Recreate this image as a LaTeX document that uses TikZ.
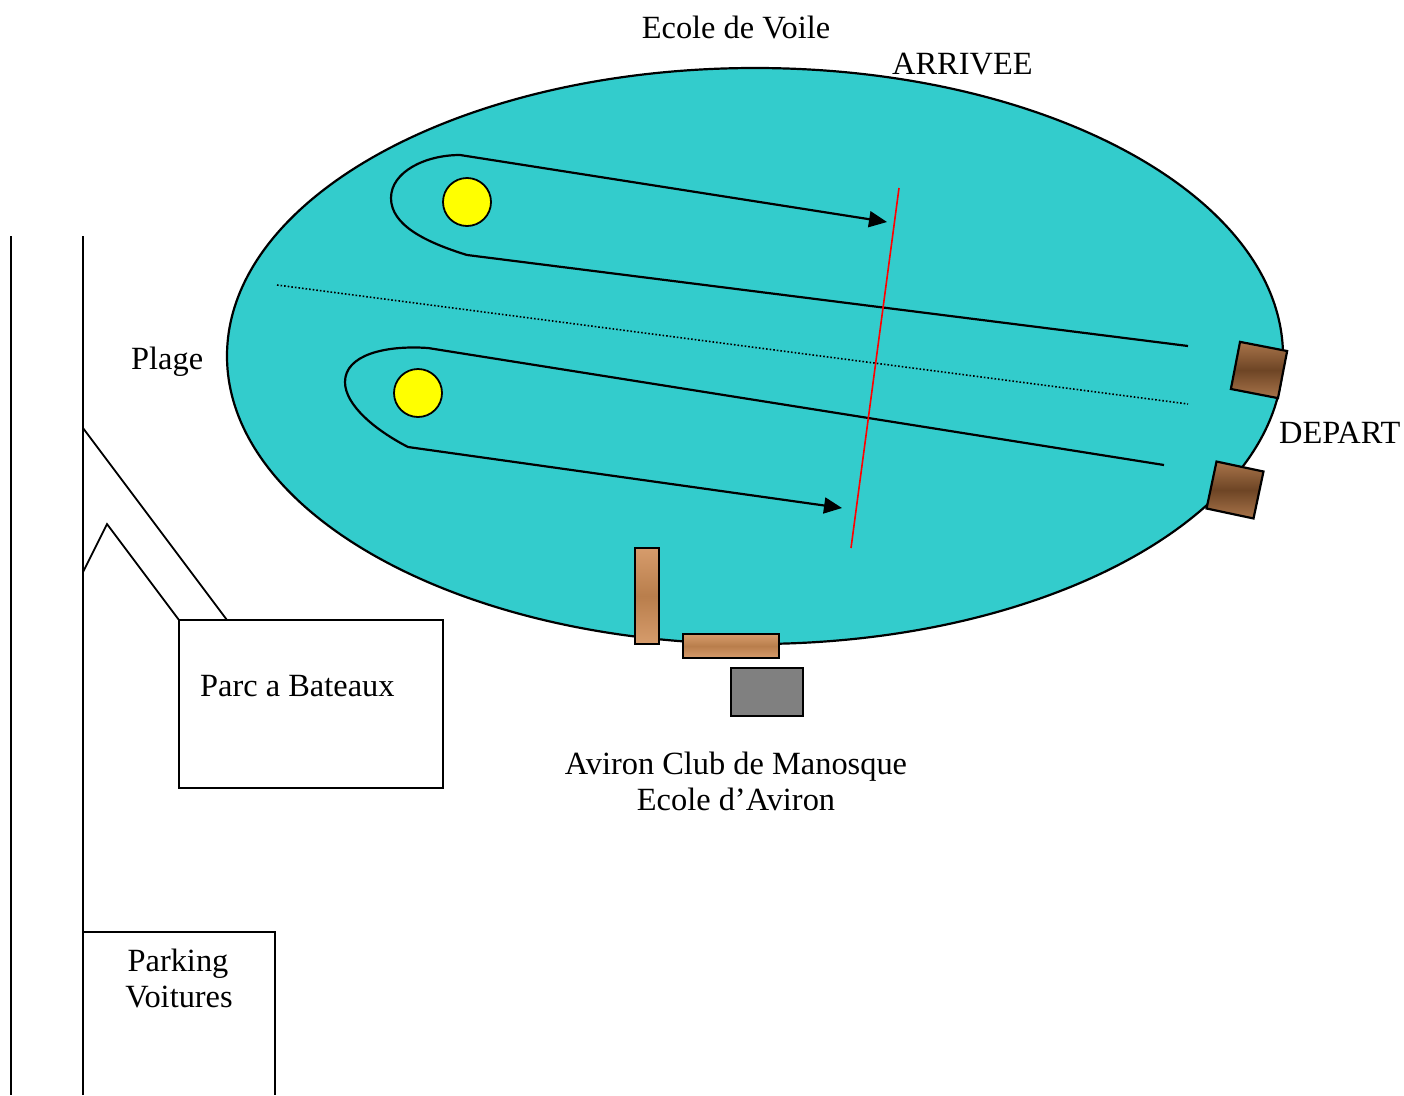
\documentclass[tikz,border=0pt]{standalone}
\usepackage{fontspec}
\setmainfont{Liberation Serif}
\usetikzlibrary{arrows.meta}
\definecolor{lake}{HTML}{33CCCC}
\definecolor{woodA}{HTML}{D69C6C}
\definecolor{woodB}{HTML}{B97E4C}
\definecolor{woodC}{HTML}{A8744A}
\definecolor{woodD}{HTML}{6E4525}
\definecolor{buoy}{HTML}{FFFF00}
\definecolor{shed}{HTML}{808080}
\tikzset{
  lbl/.style={inner sep=0pt, font=\fontsize{32.4}{36}\selectfont},
  plain/.style={draw=black, line width=1.8pt},
  course/.style={draw=black, line width=2.2pt},
  arr/.style={course, -{Triangle[length=18pt,width=16pt]}},
  woodlight/.style={draw=black, line width=2.2pt, top color=woodA, bottom color=woodA, middle color=woodB},
  wooddark/.style={draw=black, line width=2.2pt, top color=woodC, bottom color=woodC, middle color=woodD},
}
\begin{document}
\begin{tikzpicture}[x=1pt,y=-1pt]
\useasboundingbox (0,0) rectangle (1404,1095);
% road lines
\draw[plain] (11,236) -- (11,1095);
\draw[plain] (83,236) -- (83,1095);
\draw[plain] (83,428) -- (227,620);
\draw[plain] (83,572) -- (107,524) -- (179,620);
% boxes on land
\draw[plain] (179,620) rectangle (443,788);
\draw[plain] (83,1095) -- (83,932) -- (275,932) -- (275,1095);
% lake
\draw[fill=lake, draw=black, line width=2.2pt] (755,356) ellipse [x radius=528, y radius=288];
% dotted separator
\draw[black, line width=1.6pt, dotted] (277,285) -- (1188,404);
% top course
\draw[arr] (1188,346) -- (467,255) .. controls (425,242) and (391,225) .. (391,198)
  .. controls (391,172) and (425,155) .. (460,155) -- (887,222);
% bottom course
\draw[arr] (1164,465) -- (428,348) .. controls (385,345) and (345,355) .. (345,382)
  .. controls (345,405) and (375,430) .. (408,447) -- (842,508);
% buoys
\draw[fill=buoy, draw=black, line width=1.8pt] (467,202) circle [radius=24];
\draw[fill=buoy, draw=black, line width=1.8pt] (418,393) circle [radius=24];
% finish line
\draw[red, line width=1.6pt] (899,188) -- (851,548);
% pontoons on the right
\draw[wooddark, rotate around={-11:(1259,370)}] (1235,346) rectangle (1283,394);
\draw[wooddark, rotate around={-12:(1235,490)}] (1211,466) rectangle (1259,514);
% pontoons at the bottom
\draw[woodlight] (635,548) rectangle (659,644);
\draw[woodlight] (683,634) rectangle (779,658);
\draw[fill=shed, draw=black, line width=2.2pt] (731,668) rectangle (803,716);
% labels
\node[lbl, anchor=base] (voile) at (736,38) {Ecole de Voile};
\node[lbl, anchor=base west] (arrivee) at (892,74) {ARRIVEE};
\node[lbl, anchor=base west] (plage) at (131,369) {Plage};
\node[lbl, anchor=base west] (depart) at (1279,443) {DEPART};
\node[lbl, anchor=base west] (parc) at (200,696) {Parc a Bateaux};
\node[lbl, anchor=base] (club) at (736,774) {Aviron Club de Manosque};
\node[lbl, anchor=base] (ecole) at (736,810) {Ecole d’Aviron};
\node[lbl, anchor=base] (parking) at (178,971) {Parking};
\node[lbl, anchor=base] (voitures) at (179,1007) {Voitures};
\end{tikzpicture}
\end{document}
